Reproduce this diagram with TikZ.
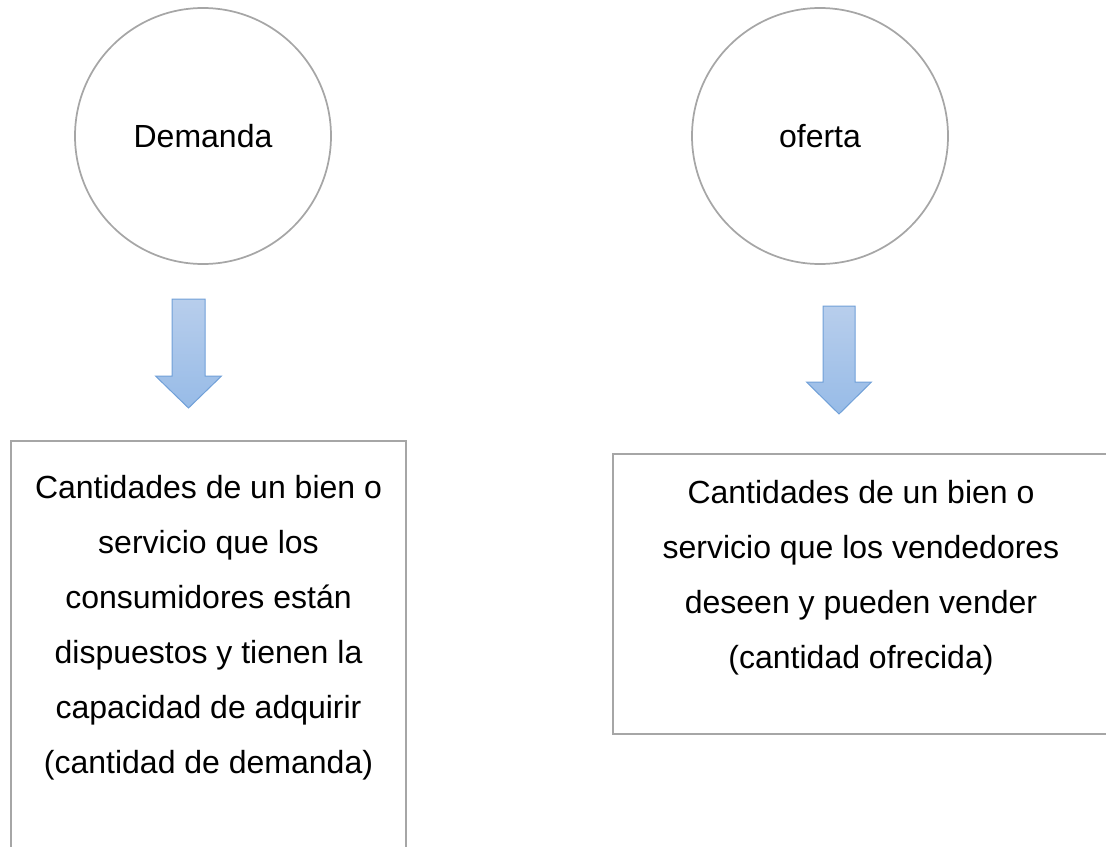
\documentclass[tikz,border=0pt]{standalone}
\usepackage{fontspec}
\setmainfont{Liberation Sans}
\usetikzlibrary{positioning}
\definecolor{linegray}{RGB}{166,166,166}
\definecolor{arrtop}{RGB}{184,206,236}
\definecolor{arrbot}{RGB}{151,187,231}
\definecolor{arredge}{RGB}{112,160,216}

\begin{document}
\begin{tikzpicture}[x=0.75pt, y=-0.75pt,
    concept/.style={circle, draw=linegray, line width=1.3pt, minimum size=192pt, inner sep=0pt, font=\fontsize{24}{41.25}\selectfont},
    box/.style={rectangle, draw=linegray, line width=1.6pt, inner sep=0pt, outer sep=0pt},
    boxtext/.style={align=center, inner sep=0pt, font=\fontsize{24}{41.25}\selectfont},
    blockarrow/.style={draw=arredge, line width=0.75pt, top color=arrtop, bottom color=arrbot}]

    \useasboundingbox (0,0) rectangle (1106,846);

    \node (dem) [concept] at (203,136) {Demanda};
    \node (ofe) [concept] at (820,136) {oferta};

    \node (dembox) [box, anchor=north west, minimum width=296.25pt, minimum height=330pt] at (11,441) {};
    \node (ofebox) [box, anchor=north west, minimum width=372pt, minimum height=210pt] at (613,454) {};

    \node (demtxt) [boxtext, below=25.3pt of dembox.north] {Cantidades de un bien o\\ servicio que los\\ consumidores están\\ dispuestos y tienen la\\ capacidad de adquirir\\ (cantidad de demanda)};
    \node (ofetxt) [boxtext, below=19.3pt of ofebox.north] {Cantidades de un bien o\\ servicio que los vendedores\\ deseen y pueden vender\\ (cantidad ofrecida)};

    % flechas
    \draw [blockarrow, shift={(188.5,299)}] (-16.5,0) -- (16.5,0) -- (16.5,77) -- (33,77) -- (0,109) -- (-33,77) -- (-16.5,77) -- cycle;
    \draw [blockarrow, shift={(839,306)}] (-16,0) -- (16,0) -- (16,76) -- (32.5,76) -- (0,108) -- (-32.5,76) -- (-16,76) -- cycle;

\end{tikzpicture}
\end{document}
